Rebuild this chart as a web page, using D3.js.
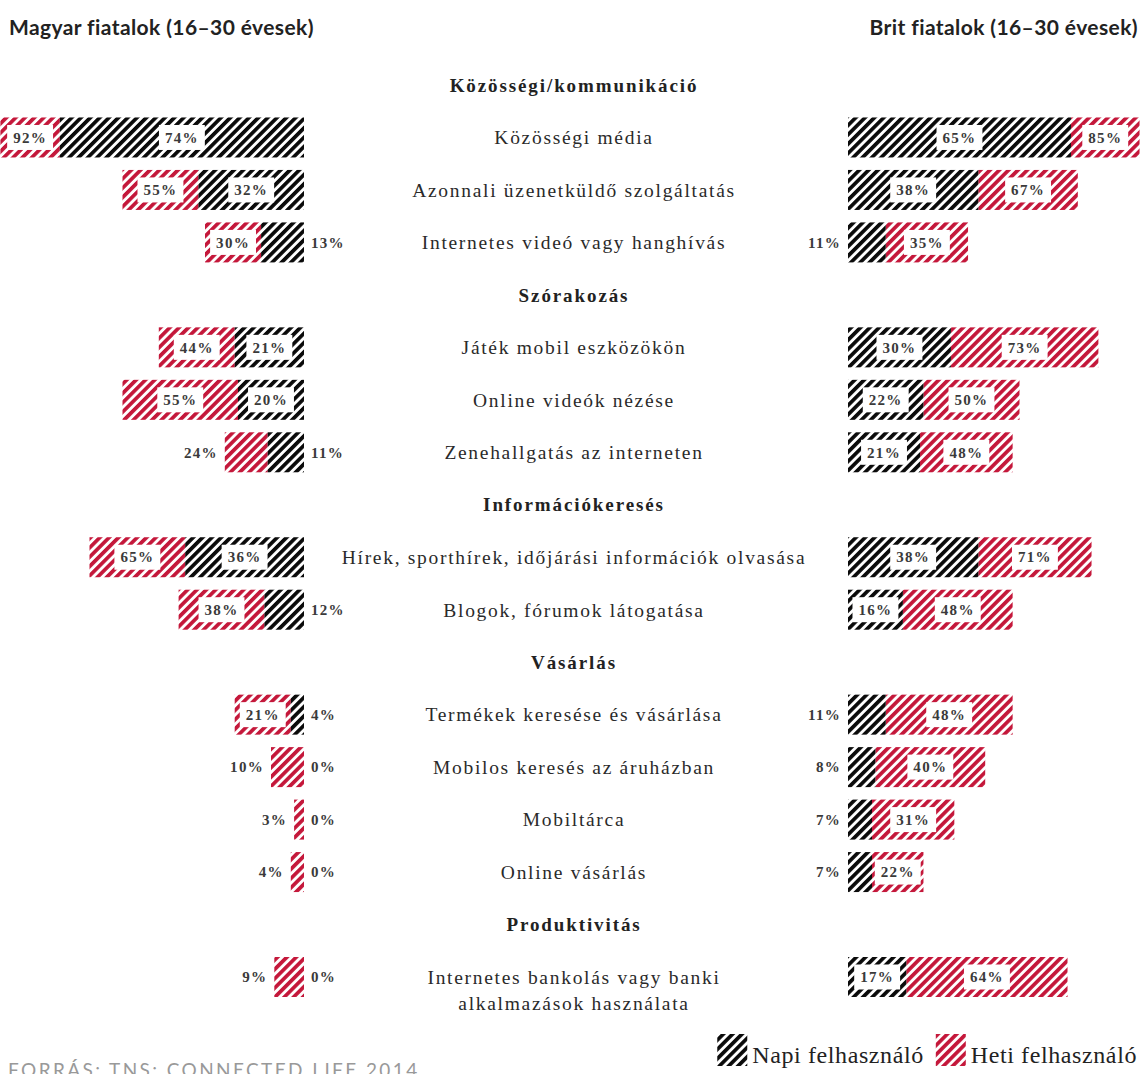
<!DOCTYPE html>
<html>
<head>
<meta charset="utf-8">
<script src="https://cdn.jsdelivr.net/npm/d3@7"></script>
<style>
  body { margin: 0; background: #fff; }
  svg { display: block; }
</style>
</head>
<body>
<div id="chart"></div>
<script>
// data
const groups = ["Közösségi/kommunikáció", "Szórakozás", "Információkeresés", "Vásárlás", "Produktivitás"];
const items = [
  "Közösségi média", "Azonnali üzenetküldő szolgáltatás", "Internetes videó vagy hanghívás",
  "Játék mobil eszközökön", "Online videók nézése", "Zenehallgatás az interneten",
  "Hírek, sporthírek, időjárási információk olvasása", "Blogok, fórumok látogatása",
  "Termékek keresése és vásárlása", "Mobilos keresés az áruházban", "Mobiltárca", "Online vásárlás",
  "Internetes bankolás vagy banki|alkalmazások használata"
];
const itemGroup = [0, 0, 0, 1, 1, 1, 2, 2, 3, 3, 3, 3, 4];
const huDaily  = [74, 32, 13, 21, 20, 11, 36, 12, 4, 0, 0, 0, 0];
const huWeekly = [92, 55, 30, 44, 55, 24, 65, 38, 21, 10, 3, 4, 9];
const ukDaily  = [65, 38, 11, 30, 22, 21, 38, 16, 11, 8, 7, 7, 17];
const ukWeekly = [85, 67, 35, 73, 50, 48, 71, 48, 48, 40, 31, 22, 64];
const legendLabels = ["Napi felhasználó", "Heti felhasználó"];

const width = 1145, height = 1074;
const red = "#c4173a";

const svg = d3.select("#chart")
  .append("svg")
    .attr("width", width)
    .attr("height", height);

// hatch patterns
const defs = svg.append("defs");
function hatch(id, color) {
  const p = defs.append("pattern")
    .attr("id", id)
    .attr("patternUnits", "userSpaceOnUse")
    .attr("width", 6.6)
    .attr("height", 6.6)
    .attr("patternTransform", "rotate(45)");
  p.append("rect")
    .attr("width", 6.6)
    .attr("height", 6.6)
    .attr("fill", "#fff");
  p.append("rect")
    .attr("width", 3.7)
    .attr("height", 6.6)
    .attr("fill", color);
}
hatch("hatch-black", "#0a0a0a");
hatch("hatch-red", red);

// slots: group headers and items in order
const slots = [];
itemGroup.forEach((g, i) => {
  if (i === 0 || itemGroup[i - 1] !== g) slots.push("g" + g);
  slots.push("i" + i);
});

const y = d3.scalePoint()
  .domain(slots)
  .range([85, 977]);

const xL = d3.scaleLinear().domain([0, 100]).range([304, 304 - 330]);
const xR = d3.scaleLinear().domain([0, 100]).range([848, 848 + 343]);
const midX = 574;
const barH = 40;

const serif = "'Liberation Serif', 'DejaVu Serif', serif";

// titles
svg.append("text")
  .attr("x", 9).attr("y", 35)
  .attr("font-family", "Lato, sans-serif")
  .attr("font-weight", "bold")
  .attr("font-size", 21)
  .attr("letter-spacing", 0.4)
  .attr("fill", "#222")
  .text("Magyar fiatalok (16–30 évesek)");

svg.append("text")
  .attr("x", 1138).attr("y", 35)
  .attr("text-anchor", "end")
  .attr("font-family", "Lato, sans-serif")
  .attr("font-weight", "bold")
  .attr("font-size", 21)
  .attr("letter-spacing", 0.4)
  .attr("fill", "#222")
  .text("Brit fiatalok (16–30 évesek)");

// group headers
svg.selectAll(".grp")
  .data(groups)
  .enter()
  .append("text")
    .attr("class", "grp")
    .attr("x", midX)
    .attr("y", (d, i) => y("g" + i))
    .attr("dy", "0.35em")
    .attr("text-anchor", "middle")
    .attr("font-family", serif)
    .attr("font-weight", "bold")
    .attr("font-size", 19)
    .attr("letter-spacing", 1.9)
    .attr("fill", "#222")
    .text(d => d);

// item labels
items.forEach((name, i) => {
  const lines = name.split("|");
  const t = svg.append("text")
    .attr("x", midX)
    .attr("y", y("i" + i))
    .attr("text-anchor", "middle")
    .attr("font-family", serif)
    .attr("font-size", 19.5)
    .attr("letter-spacing", 1.7)
    .attr("fill", "#2a2a2a");
  lines.forEach((l, k) => {
    t.append("tspan")
      .attr("x", midX)
      .attr("dy", k === 0 ? "0.35em" : "1.35em")
      .text(l);
  });
});

// one side of bars
function side(x, daily, weekly, dir) {
  const g = svg.append("g");
  daily.forEach((dv, i) => {
    const wv = weekly[i];
    const cy = y("i" + i);
    const x0 = x(0), xd = x(dv), xw = x(wv);
    // daily (black) next to the centre, weekly (red) continues to the total
    g.append("rect")
      .attr("x", Math.min(xd, xw)).attr("y", cy - barH / 2)
      .attr("width", Math.abs(xw - xd)).attr("height", barH)
      .attr("fill", "url(#hatch-red)");
    g.append("rect")
      .attr("x", Math.min(x0, xd)).attr("y", cy - barH / 2)
      .attr("width", Math.abs(xd - x0)).attr("height", barH)
      .attr("fill", "url(#hatch-black)");

    const segs = [
      {v: dv, a: x0, b: xd, inner: true},
      {v: wv, a: xd, b: xw, inner: false}
    ];
    segs.forEach(s => {
      const w = Math.abs(s.b - s.a);
      const lab = g.append("text")
        .attr("y", cy)
        .attr("dy", "0.35em")
        .attr("font-family", serif)
        .attr("font-weight", "bold")
        .attr("font-size", 15)
        .attr("letter-spacing", 1.3)
        .attr("fill", "#3a3a3a")
        .text(s.v + "%");
      if (w >= 48) {
        const cx = (s.a + s.b) / 2;
        lab.attr("x", cx).attr("text-anchor", "middle");
        const tw = lab.node().getComputedTextLength();
        const bw = Math.min(tw + 12, w - 5);
        g.insert("rect", () => lab.node())
          .attr("x", cx - bw / 2).attr("y", cy - 12.5)
          .attr("width", bw).attr("height", 25)
          .attr("fill", "#fff");
      } else if (s.inner) {
        // toward the centre labels
        lab.attr("x", x0 - dir * 7)
          .attr("text-anchor", dir < 0 ? "start" : "end");
      } else {
        lab.attr("x", xw + dir * 7)
          .attr("text-anchor", dir < 0 ? "end" : "start");
      }
    });
  });
}
side(xL, huDaily, huWeekly, -1);
side(xR, ukDaily, ukWeekly, 1);

// legend, laid out from the right edge
const legend = svg.append("g");
let right = 1137;
[1, 0].forEach(i => {
  const t = legend.append("text")
    .attr("y", 1063)
    .attr("text-anchor", "end")
    .attr("x", right)
    .attr("font-family", serif)
    .attr("font-size", 24)
    .attr("letter-spacing", 0.6)
    .attr("fill", "#222")
    .text(legendLabels[i]);
  const tw = t.node().getComputedTextLength();
  const sx = right - tw - 5 - 30;
  legend.append("rect")
    .attr("x", sx).attr("y", 1034)
    .attr("width", 30).attr("height", 32)
    .attr("fill", i === 0 ? "url(#hatch-black)" : "url(#hatch-red)");
  right = sx - 12;
});

// source
svg.append("text")
  .attr("x", 8).attr("y", 1077)
  .attr("font-family", "Lato, sans-serif")
  .attr("font-size", 19)
  .attr("letter-spacing", 2.4)
  .attr("fill", "#999")
  .text("FORRÁS: TNS: CONNECTED LIFE 2014");
</script>
</body>
</html>
